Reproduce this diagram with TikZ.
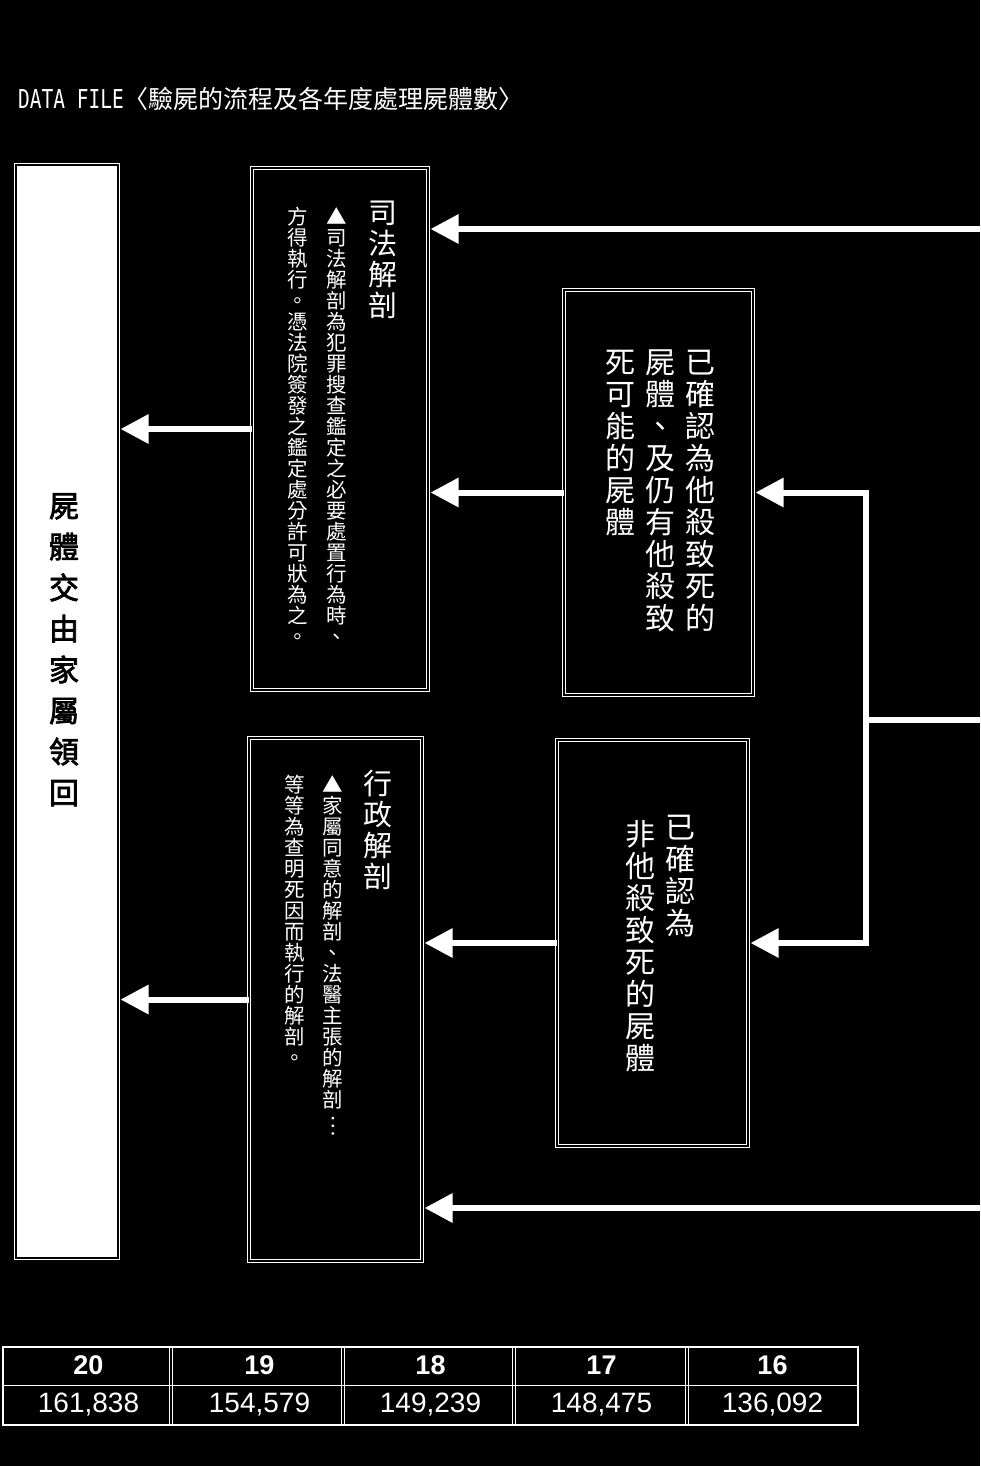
\documentclass[tikz,border=0pt]{standalone}
\usepackage{fontspec}
\setmainfont{Liberation Sans}
\newfontfamily\cjk{Noto Sans CJK TC}
\newfontfamily\cjkv[RawFeature=+vert]{Noto Sans CJK TC}
\newfontfamily\cjkbold[FakeBold=2.5]{Noto Sans CJK TC}
\newfontfamily\mono[FakeStretch=0.75]{DejaVu Sans Mono}
\usetikzlibrary{arrows.meta}

\begin{document}
\begin{tikzpicture}[x=1pt, y=-1pt]

\tikzstyle{every node} = [inner sep=0pt, text=white]
\tikzstyle{panel} = [rectangle, draw=white, double=black, double distance=2.5pt, line width=1pt]
\tikzstyle{bigcol} = [anchor=north, align=center, font=\cjk\fontsize{30}{32}\selectfont]
\tikzstyle{headcol} = [anchor=north, align=center, font=\cjk\fontsize{29}{31}\selectfont]
\tikzstyle{smallcol} = [anchor=north, align=center, font=\cjkv\fontsize{20.5}{21}\selectfont]
\tikzstyle{flow} = [draw=white, line width=6pt, -{Triangle[length=28pt, width=28pt]}, shorten >=2pt]
\tikzstyle{link} = [draw=white, line width=6pt]

\fill[black] (0,0) rectangle (980,1466);
\useasboundingbox (0,0) rectangle (980,1466);

\node[anchor=base west] (title) at (18,109)
  {{\mono\fontsize{26}{26}\selectfont DATA FILE}{\cjk\fontsize{25}{25}\selectfont 〈驗屍的流程及各年度處理屍體數〉}};

\node[panel, fill=white, minimum width=102pt, minimum height=1093pt] (fam) at (67,711.5) {};
\node[anchor=north, align=center, text=black, font=\cjkbold\fontsize{30}{41}\selectfont] (famtext) at (64,493)
  {屍\\體\\交\\由\\家\\屬\\領\\回};

\node[panel, minimum width=176pt, minimum height=522pt] (jud) at (340,429) {};
\node[headcol] (judhead) at (383,201) {司\\法\\解\\剖};
\node[smallcol] (judnote1) at (337,207)
  {▲\\司\\法\\解\\剖\\為\\犯\\罪\\搜\\查\\鑑\\定\\之\\必\\要\\處\\置\\行\\為\\時\\、};
\node[smallcol] (judnote2) at (298,207)
  {方\\得\\執\\行\\。\\憑\\法\\院\\簽\\發\\之\\鑑\\定\\處\\分\\許\\可\\狀\\為\\之\\。};

\node[panel, minimum width=173pt, minimum height=523pt] (adm) at (335.5,999.5) {};
\node[headcol] (admhead) at (378,770) {行\\政\\解\\剖};
\node[smallcol] (admnote1) at (333,775)
  {▲\\家\\屬\\同\\意\\的\\解\\剖\\、\\法\\醫\\主\\張\\的\\解\\剖\\\rotatebox[origin=c]{90}{…}};
\node[smallcol] (admnote2) at (295,775)
  {等\\等\\為\\查\\明\\死\\因\\而\\執\\行\\的\\解\\剖\\。};

\node[panel, minimum width=189pt, minimum height=405pt] (hom) at (658.5,492.5) {};
\node[bigcol] (homtext1) at (700,350) {已\\確\\認\\為\\他\\殺\\致\\死\\的};
\node[bigcol] (homtext2) at (660,350) {屍\\體\\、\\及\\仍\\有\\他\\殺\\致};
\node[bigcol] (homtext3) at (620,350) {死\\可\\能\\的\\屍\\體};

\node[panel, minimum width=191pt, minimum height=406pt] (non) at (652.5,943) {};
\node[bigcol] (nontext1) at (680,815) {已\\確\\認\\為};
\node[bigcol] (nontext2) at (640,820) {非\\他\\殺\\致\\死\\的\\屍\\體};

\coordinate (in1) at (980,229);
\coordinate (in2) at (980,720);
\coordinate (split) at (866,720);
\coordinate (in3) at (980,1208);

\draw[flow] (in1) -- (in1 -| jud.east);
\draw[link] (in2) -- (split);
\draw[flow] (split) |- (hom.east);
\draw[flow] (split) |- (non.east);
\draw[flow] (in3) -- (in3 -| adm.east);
\draw[flow] (hom.west) -- (hom.west -| jud.east);
\draw[flow] (non.west) -- (non.west -| adm.east);
\draw[flow] (jud.west) -- (jud.west -| fam.east);
\draw[flow] (adm.west) -- (adm.west -| fam.east);

\foreach \x in {171,343,514,687}
  \draw[white, double=black, double distance=2pt, line width=0.8pt] (\x,1347) -- (\x,1425);
\draw[white, line width=1pt] (3,1385) -- (858,1385);
\draw[white, line width=2pt] (3,1347) rectangle (858,1425);

\foreach \yr/\num [count=\i] in {20/{161,838}, 19/{154,579}, 18/{149,239}, 17/{148,475}, 16/{136,092}} {
  \node[anchor=base, font=\bfseries\fontsize{27}{27}\selectfont] (yr\i) at ({3+171*(\i-0.5)},1374) {\yr};
  \node[anchor=base, font=\fontsize{28}{28}\selectfont] (num\i) at ({3+171*(\i-0.5)},1412) {\num};
}

\end{tikzpicture}
\end{document}
